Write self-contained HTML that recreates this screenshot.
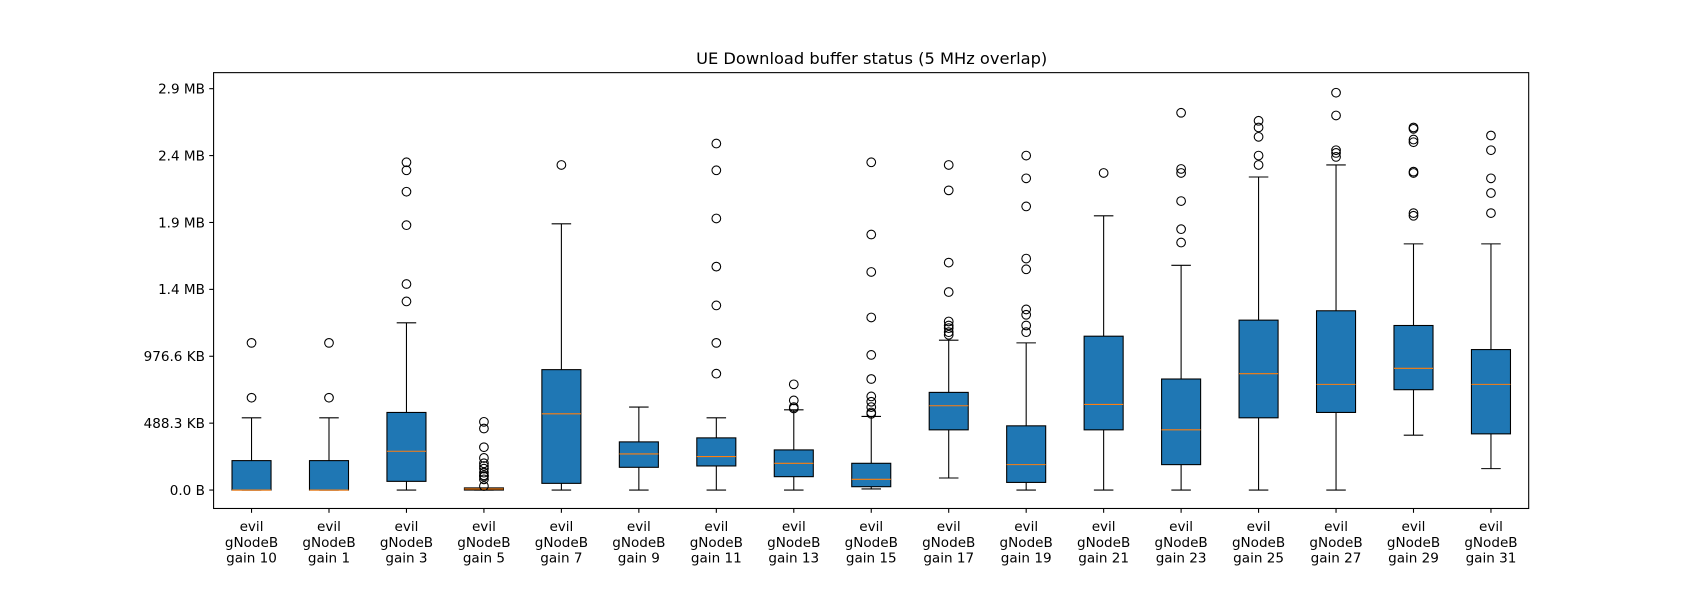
<!DOCTYPE html>
<html><head><meta charset="utf-8"><style>
body{margin:0;background:#fff;}
svg{display:block;font-family:"DejaVu Sans","Liberation Sans",sans-serif;}
</style></head><body>
<svg id="chart" width="1700" height="600" viewBox="0 0 1700 600">
<rect width="1700" height="600" fill="#fff"/>
<g transform="scale(1.08418)">
<text x="804" y="59" text-anchor="middle" font-size="15">UE Download buffer status (5 MHz overlap)</text>
<g id="plot"></g>
<rect x="197" y="67" width="1213" height="402" fill="none" stroke="#000" stroke-width="1"/>
</g>
</svg>
<script>
// values in units of 1e6 bytes
const categories=["10","1","3","5","7","9","11","13","15","17","19","21","23","25","27","29","31"];
const whisLo=[0,0,0,0,0,0,0,0,0.008,0.09,0,0,0,0,0,0.41,0.16];
const q1=[0,0,0.065,0,0.05,0.17,0.18,0.10,0.025,0.45,0.057,0.45,0.19,0.54,0.58,0.75,0.42];
const med=[0,0,0.29,0.008,0.57,0.27,0.25,0.20,0.08,0.63,0.19,0.64,0.45,0.87,0.79,0.91,0.79];
const q3=[0.22,0.22,0.58,0.016,0.90,0.36,0.39,0.30,0.20,0.73,0.48,1.15,0.83,1.27,1.34,1.23,1.05];
const whisHi=[0.54,0.54,1.25,0.01,1.99,0.62,0.54,0.60,0.55,1.12,1.10,2.05,1.68,2.34,2.43,1.84,1.84];
const fliers=[
[1.10,0.69],[1.10,0.69],
[1.41,1.54,1.98,2.23,2.39,2.45],
[0.51,0.46,0.32,0.24,0.20,0.18,0.16,0.13,0.11,0.10,0.08,0.03],
[2.43],[],
[0.87,1.10,1.38,1.67,2.03,2.39,2.59],
[0.61,0.67,0.79,0.62],
[0.57,0.58,0.62,0.66,0.70,0.83,1.01,1.29,1.63,1.91,2.45],
[1.16,1.18,1.21,1.23,1.26,1.48,1.70,2.24,2.43],
[1.18,1.23,1.31,1.35,1.65,1.73,2.12,2.33,2.50],
[2.37],
[1.85,1.95,2.16,2.37,2.40,2.82],
[2.43,2.50,2.64,2.71,2.76],
[2.49,2.52,2.54,2.80,2.97],
[2.05,2.07,2.37,2.38,2.60,2.62,2.70,2.71],
[2.07,2.22,2.33,2.54,2.65]];
const tickVals=[0,0.5,1.0,1.5,2.0,2.5,3.0];
const tickLabels=["0.0 B","488.3 KB","976.6 KB","1.4 MB","1.9 MB","2.4 MB","2.9 MB"];

const NS="http://www.w3.org/2000/svg";
const g=document.getElementById('plot');
const y=v=>452-v*123.4;
const x=i=>232+i*71.45;
function mk(tag,attrs,parent){const e=document.createElementNS(NS,tag);for(const k in attrs)e.setAttribute(k,attrs[k]);(parent||g).appendChild(e);return e;}
tickVals.forEach((v,i)=>{
  const t=mk('line',{x1:193,x2:197,y1:y(v),y2:y(v),stroke:'#000'});
  
  
  const l=mk('text',{x:189,y:y(v)+4.5,'text-anchor':'end','font-size':12.5});
  l.textContent=tickLabels[i];
  
  
});
categories.forEach((c,i)=>{
  const cx=x(i),hw=18,cw=9;
  const grp=mk('g',{});
  
  
  mk('line',{x1:cx,x2:cx,y1:y(q1[i]),y2:y(whisLo[i]),stroke:'#000'},grp);
  mk('line',{x1:cx,x2:cx,y1:y(q3[i]),y2:y(whisHi[i]),stroke:'#000'},grp);
  mk('line',{x1:cx-cw,x2:cx+cw,y1:y(whisLo[i]),y2:y(whisLo[i]),stroke:'#000'},grp);
  mk('line',{x1:cx-cw,x2:cx+cw,y1:y(whisHi[i]),y2:y(whisHi[i]),stroke:'#000'},grp);
  mk('rect',{x:cx-hw,y:y(q3[i]),width:hw*2,height:Math.max(0.5,y(q1[i])-y(q3[i])),fill:'#1f77b4',stroke:'#000'},grp);
  mk('line',{x1:cx-hw,x2:cx+hw,y1:y(med[i]),y2:y(med[i]),stroke:'#ff7f0e'},grp);
  fliers[i].forEach(f=>{
    const p=mk('circle',{cx:cx,cy:y(f),r:4,fill:'none',stroke:'#000'},grp);
    
    
  });
  mk('line',{x1:cx,x2:cx,y1:469,y2:473,stroke:'#000'});
  const lab=mk('text',{x:cx,'text-anchor':'middle','font-size':12.5});
  
  
  ["evil","gNodeB","gain "+c].forEach((s,k)=>{const ts=mk('tspan',{x:cx,y:490+k*14.5},lab);ts.textContent=s;});
});
</script>
</body></html>
